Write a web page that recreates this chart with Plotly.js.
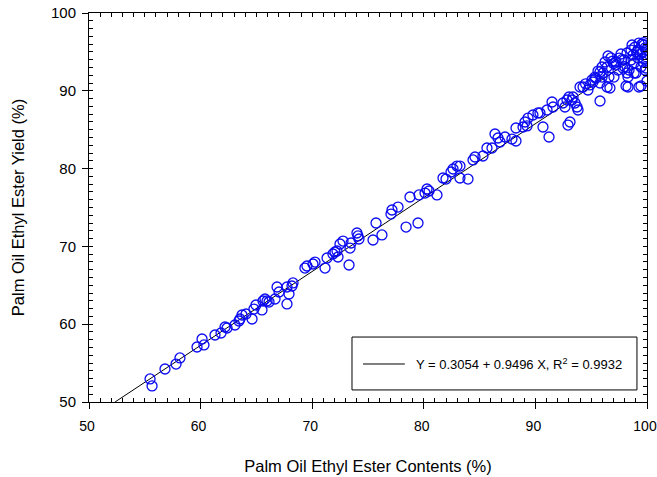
<!DOCTYPE html>
<html>
<head>
<meta charset="utf-8">
<script src="https://cdn.plot.ly/plotly-3.0.1.min.js"></script>
<style>html,body{margin:0;padding:0;background:#fff;}#chart{width:657px;height:477px;}</style>
</head>
<body>
<div id="chart"></div>
<script>
// Palm Oil Ethyl Ester Contents (%)
var contents = [
55.47,55.65,56.81,57.80,58.15,59.68,60.13,60.30,61.29,61.83,62.19,62.37,63.08,63.44,63.53,63.71,64.07,64.61,64.78,64.96,
65.50,65.59,65.77,65.95,66.13,66.67,66.85,67.03,67.74,67.74,67.92,68.19,68.28,69.35,69.53,70.07,70.25,71.15,71.33,71.86,
72.04,72.22,72.31,72.49,72.76,73.30,73.39,73.48,74.01,74.10,74.19,75.45,75.72,76.25,77.06,77.15,77.69,78.41,78.76,79.48,
79.57,80.11,80.29,80.47,81.18,81.72,81.99,82.44,82.62,82.97,83.24,83.24,83.96,84.41,84.59,85.30,85.66,86.11,86.38,86.65,
86.83,87.28,87.90,88.26,88.26,88.89,89.07,89.25,89.34,89.78,90.23,90.41,90.68,91.04,91.22,91.49,91.58,92.47,92.65,92.92,
93.10,92.83,93.01,93.28,93.37,93.55,93.73,93.82,94.00,94.27,94.71,94.89,95.07,95.16,95.34,95.61,95.79,95.79,95.79,95.97,
95.97,96.06,96.24,96.42,96.42,96.51,96.59,96.68,96.77,97.04,97.22,97.22,97.40,97.67,97.85,97.94,98.12,98.21,98.21,98.30,
98.30,98.39,98.57,98.57,98.66,98.75,98.84,98.84,99.01,99.19,99.19,99.28,99.28,99.46,99.46,99.64,99.64,99.73,99.73,99.82,
99.82,99.91,100.0,97.00,97.50,98.00,98.90,99.10,99.40,99.70,99.90,99.55,99.90,97.75,96.90,95.40,94.50
];
// Palm Oil Ethyl Ester Yield (%)
var yields = [
52.96,52.06,54.24,54.88,55.66,57.07,58.10,57.33,58.61,58.87,59.64,59.51,59.90,60.41,60.67,61.18,61.31,60.67,61.95,62.47,
61.83,62.98,63.24,62.98,62.85,63.24,64.78,64.14,64.78,62.60,63.88,64.91,65.30,67.22,67.48,67.74,67.99,67.22,68.51,69.02,
69.28,69.41,68.64,70.31,70.69,67.61,69.79,70.44,71.72,71.34,70.95,70.82,73.01,71.47,74.16,74.68,75.06,72.49,76.35,73.01,
76.61,76.86,77.38,77.12,76.61,78.79,78.66,79.56,79.95,80.33,80.33,78.79,78.66,81.11,81.49,81.62,82.65,82.65,84.45,83.93,
83.42,84.06,83.80,83.55,85.22,85.35,85.99,85.48,86.50,86.89,87.15,87.15,85.35,87.53,84.06,88.56,87.92,88.43,87.92,85.60,
85.99,88.82,89.20,88.82,89.20,88.43,87.92,87.53,90.49,90.49,90.10,90.75,91.39,91.13,91.77,92.54,88.69,91.00,92.42,93.06,
91.77,92.29,93.70,93.06,90.49,94.47,91.77,90.36,94.22,91.77,93.70,93.32,92.67,94.73,92.93,93.96,90.62,92.29,94.86,91.77,
90.49,92.67,93.96,95.24,95.89,94.60,93.57,92.29,92.29,94.22,95.24,96.14,90.49,93.06,90.62,94.99,93.70,95.89,94.09,95.50,
92.67,92.93,91.26,93.50,94.20,93.10,95.60,95.00,94.70,96.20,95.20,96.00,94.40,94.00,93.80,91.60,90.90
];

var intercept = 0.3054;
var slope = 0.9496;
var r2 = 0.9932;
var xRange = [50, 100];
var yRange = [50, 100];

// regression line endpoints from the fitted equation, clipped to the axes
var xStart = (yRange[0] - intercept) / slope;
var lineX = [xStart, xRange[1]];
var lineY = lineX.map(function (v) { return intercept + slope * v; });

var FONT = 'Liberation Sans, Arial, sans-serif';

var traces = [
  {
    x: lineX, y: lineY, type: 'scatter', mode: 'lines',
    line: {color: '#000000', width: 1}, hoverinfo: 'skip', showlegend: false
  },
  {
    x: contents, y: yields, type: 'scatter', mode: 'markers',
    marker: {symbol: 'circle-open', size: 10, color: '#0a0af0', line: {width: 1.3, color: '#0a0af0'}},
    showlegend: false
  },
  {
    x: [null], y: [null], xaxis: 'x2', yaxis: 'y2', type: 'scatter', mode: 'markers',
    showlegend: false, hoverinfo: 'skip'
  }
];

var eqText = 'Y = ' + intercept.toFixed(4) + ' + ' + slope.toFixed(4) + ' X, R<sup>2</sup> = ' + r2.toFixed(4);

var layout = {
  width: 657, height: 477,
  margin: {l: 89, r: 10, t: 13, b: 75},
  paper_bgcolor: '#ffffff', plot_bgcolor: '#ffffff',
  font: {family: FONT, size: 15, color: '#000000'},
  showlegend: false,
  xaxis: {
    range: xRange, dtick: 10, tick0: 50,
    ticks: 'inside', ticklen: 4, tickwidth: 1, tickcolor: '#000',
    minor: {dtick: 1, ticks: 'inside', ticklen: 4, tickwidth: 1, tickcolor: '#000'},
    showline: true, linecolor: '#000', linewidth: 1, mirror: 'ticks',
    showgrid: false, zeroline: false, automargin: false,
    ticklabeloverflow: 'allow', ticklabelstandoff: 11, ticklabelshift: -2,
    tickfont: {family: FONT, size: 14, color: '#000'},
    title: {text: 'Palm Oil Ethyl Ester Contents (%)', font: {family: FONT, size: 16.5, color: '#000'}, standoff: 27}
  },
  yaxis: {
    range: yRange, dtick: 10, tick0: 50,
    ticks: 'inside', ticklen: 4, tickwidth: 1, tickcolor: '#000',
    minor: {dtick: 1, ticks: 'inside', ticklen: 4, tickwidth: 1, tickcolor: '#000'},
    showline: true, linecolor: '#000', linewidth: 1, mirror: 'ticks',
    showgrid: false, zeroline: false, automargin: false,
    ticklabeloverflow: 'allow', ticklabelstandoff: 9,
    tickfont: {family: FONT, size: 15, color: '#000'},
    title: {text: 'Palm Oil Ethyl Ester Yield (%)', font: {family: FONT, size: 16.5, color: '#000'}, standoff: 22}
  },
  xaxis2: {
    overlaying: 'x', side: 'bottom', anchor: 'y2', range: xRange, dtick: 10, tick0: 50,
    ticks: 'outside', ticklen: 6, tickwidth: 1, tickcolor: '#000',
    showticklabels: false, showline: false, showgrid: false, zeroline: false
  },
  yaxis2: {
    overlaying: 'y', side: 'left', anchor: 'x2', range: yRange, dtick: 10, tick0: 50,
    ticks: 'outside', ticklen: 6, tickwidth: 1, tickcolor: '#000',
    showticklabels: false, showline: false, showgrid: false, zeroline: false
  },
  shapes: [
    {type: 'rect', xref: 'paper', yref: 'paper', x0: 0.4713, x1: 0.982, y0: 0.031, y1: 0.167,
     line: {color: '#000', width: 1}, fillcolor: '#ffffff', layer: 'above'},
    {type: 'line', xref: 'paper', yref: 'paper', x0: 0.491, x1: 0.566, y0: 0.0977, y1: 0.0977,
     line: {color: '#000', width: 1}, layer: 'above'}
  ],
  annotations: [
    {xref: 'paper', yref: 'paper', x: 0.5824, y: 0.0977, xanchor: 'left', yanchor: 'middle',
     text: eqText, showarrow: false, font: {family: FONT, size: 13, color: '#000'}}
  ]
};

Plotly.newPlot('chart', traces, layout, {displayModeBar: false, staticPlot: true});
</script>
</body>
</html>
